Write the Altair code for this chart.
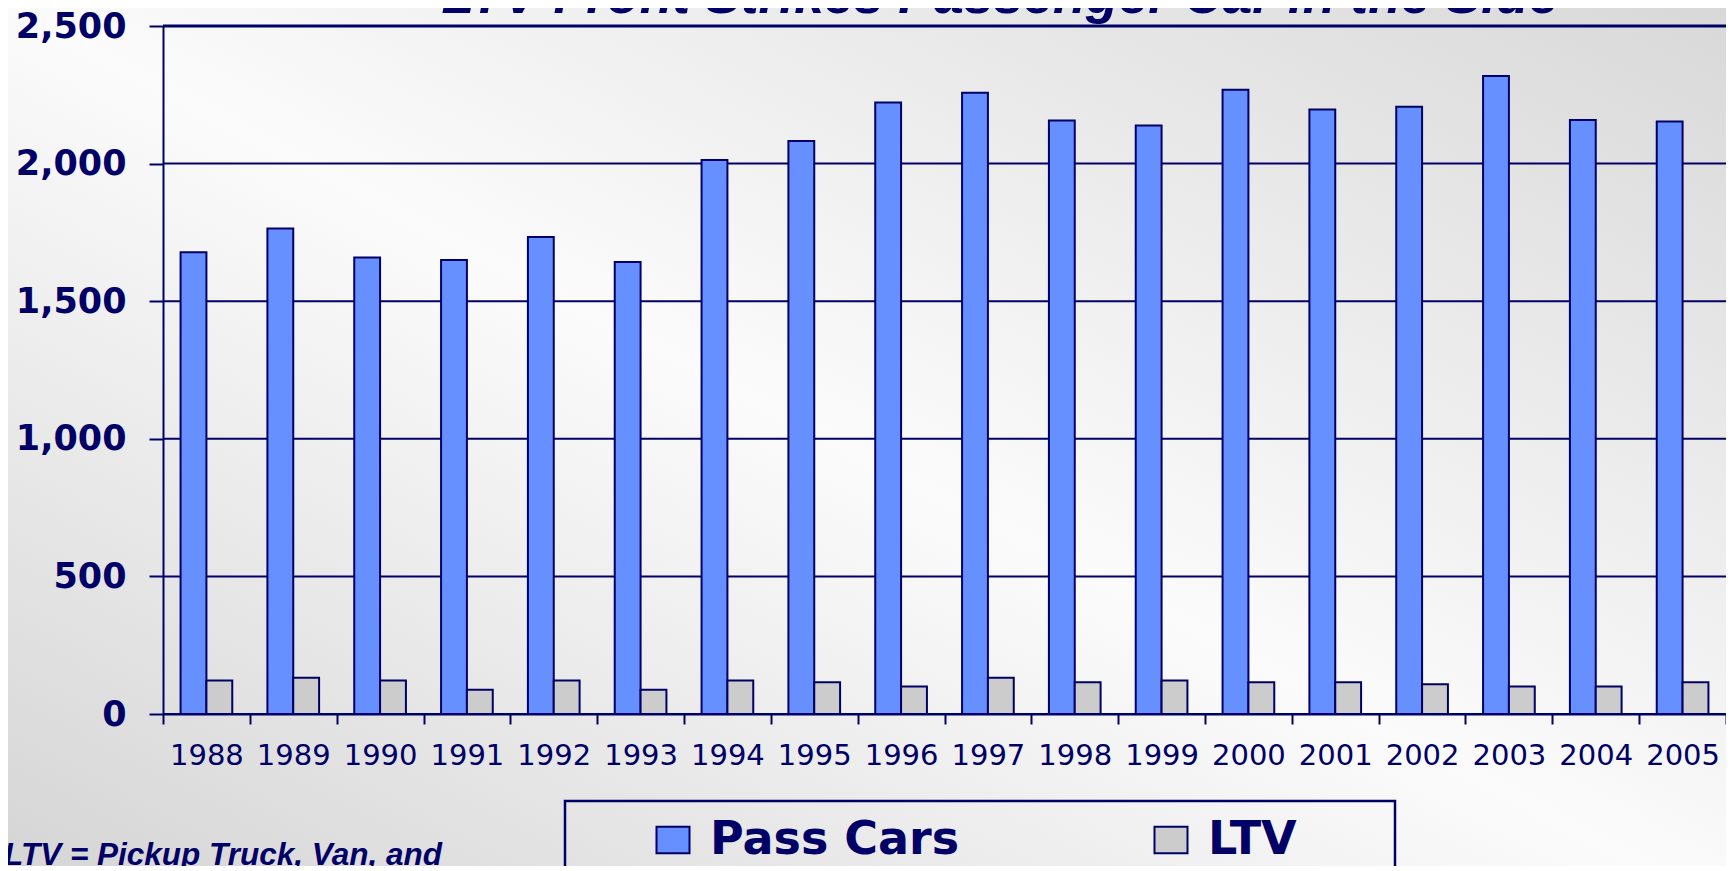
import altair as alt
import pandas as pd

# ---- data ----
years = ["1988", "1989", "1990", "1991", "1992", "1993", "1994", "1995", "1996",
         "1997", "1998", "1999", "2000", "2001", "2002", "2003", "2004", "2005"]
pass_cars = [1678, 1764, 1659, 1650, 1733, 1642, 2013, 2082, 2222,
             2257, 2157, 2138, 2268, 2197, 2207, 2318, 2158, 2153]
ltv = [122, 132, 122, 88, 122, 88, 122, 115, 100,
       132, 115, 122, 115, 115, 108, 100, 100, 115]
series = ["Pass Cars", "LTV"]
series_colors = ["#6690FF", "#CCCCCC"]
y_ticks = [0, 500, 1000, 1500, 2000, 2500]
title_text = ["LTV Front Strikes Passenger Car in the Side"]
note_text = ["LTV = Pickup Truck, Van, and"]

NAVY = "#000066"
W, H = 1563, 688
SVG_H = 858

rows = []
for i, y in enumerate(years):
    rows.append({"year": y, "series": "Pass Cars", "value": pass_cars[i]})
    rows.append({"year": y, "series": "LTV", "value": ltv[i]})
df = pd.DataFrame(rows)

y_scale = alt.Scale(domain=[0, 2500], nice=False, zero=True)
y_axis = alt.Axis(values=y_ticks, format=",d", title=None, grid=False,
                  labelFont="DejaVu Sans", labelFontWeight="bold", labelFontSize=35,
                  labelColor=NAVY, labelPadding=23, tickSize=14, tickWidth=2,
                  tickColor=NAVY, domainColor=NAVY, domainWidth=2, zindex=1)

gradient = alt.LinearGradient(
    gradient="linear", x1=0, y1=1, x2=1, y2=0,
    stops=[alt.GradientStop(color="#d3d3d3", offset=0),
           alt.GradientStop(color="#fbfbfb", offset=0.5),
           alt.GradientStop(color="#d8d8d8", offset=1)])

bg = alt.Chart(pd.DataFrame({"k": [0]})).mark_rect(color=gradient).encode(
    x=alt.value(-155), x2=alt.value(W + 10), y=alt.value(-18), y2=alt.value(H + 200))

grid = alt.Chart(pd.DataFrame({"v": y_ticks})).mark_rule(color=NAVY).encode(
    y=alt.Y("v:Q", scale=y_scale, axis=y_axis),
    size=alt.condition("datum.v == 2500", alt.value(3), alt.value(2)))

bars = alt.Chart(df).mark_bar(stroke=NAVY, strokeWidth=2).encode(
    x=alt.X("year:N", sort=years, scale=alt.Scale(paddingInner=0, paddingOuter=0),
            axis=alt.Axis(title=None, labelAngle=0, tickBand="extent", tickSize=10,
                          tickWidth=2, tickColor=NAVY, domainColor=NAVY, domainWidth=2,
                          labelFont="DejaVu Sans", labelFontSize=29, labelColor=NAVY,
                          labelBaseline="alphabetic", labelPadding=40,
                          labelOverlap=False, zindex=1)),
    xOffset=alt.XOffset("series:N", sort=series,
                        scale=alt.Scale(paddingInner=0, paddingOuter=0.68)),
    y=alt.Y("value:Q", scale=y_scale, axis=y_axis),
    color=alt.Color("series:N", sort=series,
                    scale=alt.Scale(domain=series, range=series_colors),
                    legend=alt.Legend(
                        title=None, orient="none", legendX=487, legendY=791,
                        direction="horizontal", padding=0,
                        symbolType="M-1,-0.8L1,-0.8L1,0.8L-1,0.8Z", symbolSize=1089,
                        symbolStrokeColor=NAVY, symbolStrokeWidth=2, symbolOpacity=1,
                        labelFont="DejaVu Sans", labelFontWeight="bold",
                        labelFontSize=46, labelColor=NAVY, labelOffset=14,
                        labelLimit=400, columnPadding=188)))

title = alt.Chart(pd.DataFrame({"t": title_text})).mark_text(
    font="Liberation Sans", fontSize=53.5, fontWeight="bold", fontStyle="italic",
    color=NAVY, align="center", baseline="alphabetic").encode(
    text="t:N", x=alt.value(837), y=alt.value(-13))

note = alt.Chart(pd.DataFrame({"t": note_text})).mark_text(
    font="Liberation Sans", fontSize=31.5, fontWeight="bold", fontStyle="italic",
    color=NAVY, align="left", baseline="alphabetic").encode(
    text="t:N", x=alt.value(-159), y=alt.value(839))

frame = alt.Chart(pd.DataFrame({"k": [0]})).mark_rect(
    filled=False, stroke=NAVY, strokeWidth=2.5).encode(
    x=alt.value(402), x2=alt.value(1232), y=alt.value(775), y2=alt.value(900))

chart = alt.layer(bg, grid, bars, title, note, frame).properties(
    width=W, height=H,
    autosize=alt.AutoSizeParams(type="none"),
    padding={"left": 155, "top": 18, "right": 0, "bottom": SVG_H - 18 - H},
    background="white",
).configure_view(stroke=None)

chart.save("out.html", embed_options={"renderer": "svg", "actions": False})
